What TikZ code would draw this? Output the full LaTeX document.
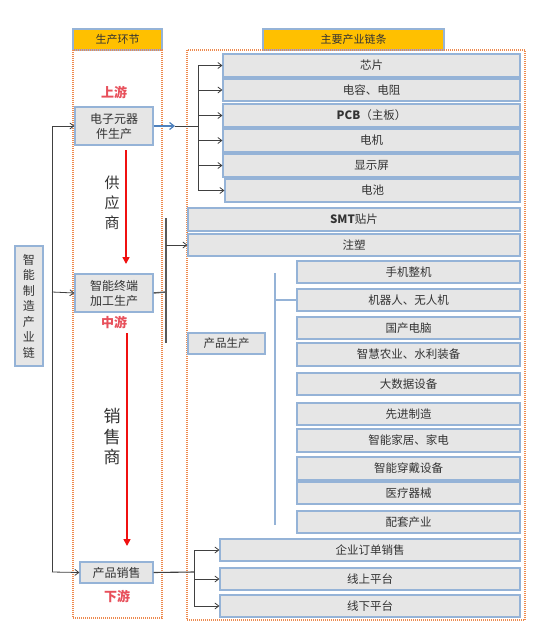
\documentclass[tikz,border=0pt]{standalone}
\usepackage{fontspec}
\setmainfont{Noto Sans CJK SC}
\usetikzlibrary{arrows.meta}
\definecolor{boxblue}{HTML}{95B3D7}
\definecolor{boxgray}{HTML}{E6E6E6}
\definecolor{txt}{HTML}{333333}
\definecolor{hdr}{HTML}{FFC000}
\definecolor{dotor}{HTML}{EE8A4E}
\definecolor{redtxt}{HTML}{E8505B}
\definecolor{redarr}{HTML}{F01010}
\definecolor{arrblue}{HTML}{4F81BD}
\newcommand\mybox[7][]{\node[box,#1,minimum width={(#5-#3)*1pt},minimum height={(#6-#4)*1pt}] (#2) at ({(#3+#5)/2},{(#4+#6)/2}) {#7};}
\tikzset{
 box/.style={draw=boxblue,fill=boxgray,line width=1.1pt,inner sep=0pt,text=txt,font=\fontsize{11.5}{13}\selectfont,align=center},
 hbox/.style={fill=hdr,inner sep=0pt,text=txt,font=\fontsize{11}{13}\selectfont},
 dotframe/.style={draw=dotor,line width=1.3pt,dash pattern=on 1pt off 1pt},
 conn/.style={draw=black!75,line width=0.8pt},
 arr/.style={conn,-{Straight Barb[length=4pt,width=6pt]}},
 bluearr/.style={draw=arrblue,line width=1.2pt,-{Straight Barb[length=4.5pt,width=7pt]}},
 bluel/.style={draw=boxblue,line width=1.3pt},
 redarrow/.style={draw=redarr,line width=1.6pt,-{Triangle[length=7pt,width=7pt]}},
 stage/.style={text=redtxt,font=\fontsize{13}{15}\selectfont\bfseries},
 vtext/.style={text=txt,align=center},
}
\begin{document}
\begin{tikzpicture}[x=1pt,y=-1pt]
\useasboundingbox[fill=white] (0,0) rectangle (542,642);
% headers
\mybox[hbox]{h1}{73}{29}{162}{50}{生产环节}
\mybox[hbox]{h2}{263}{29}{444}{50}{主要产业链条}
% dotted frames
\draw[dotframe] (73,50) rectangle (162,618);
\draw[dotframe] (187,50) rectangle (525,620);
% left stage boxes
\mybox[font=\fontsize{12}{15}\selectfont]{up}{75}{107}{153}{145}{电子元器\\件生产}
\mybox[font=\fontsize{12}{15}\selectfont]{mid}{75}{274}{153}{312}{智能终端\\加工生产}
\mybox[font=\fontsize{12}{15}\selectfont]{down}{80}{562}{153}{583}{产品销售}
\mybox[font=\fontsize{12}{15.5}\selectfont]{root}{15}{246}{43}{366}{智\\能\\制\\造\\产\\业\\链}
% stage labels
\node[stage] (sup) at (114,92) {上游};
\node[stage] (smid) at (114,322) {中游};
\node[stage] (sdown) at (117,596) {下游};
\node[vtext,font=\fontsize{15}{20}\selectfont] (gys) at (112,203) {供\\应\\商};
\node[vtext,font=\fontsize{17}{20.5}\selectfont] (xss) at (112,437) {销\\售\\商};
% red arrows
\coordinate (r1s) at (126,150); \coordinate (r1e) at (126,264);
\coordinate (r2s) at (127,333); \coordinate (r2e) at (127,546);
\draw[redarrow] (r1s) -- (r1e);
\draw[redarrow] (r2s) -- (r2e);
% upstream boxes
\mybox{c1}{223}{54}{520}{77}{芯片}
\mybox{c2}{223}{79}{520}{101}{电容、电阻}
\mybox{c3}{223}{104}{520}{127}{\textbf{PCB}（主板）}
\mybox{c4}{223}{129}{520}{152}{电机}
\mybox{c5}{223}{154}{520}{177}{显示屏}
\mybox{c6}{225}{179}{520}{202}{电池}
% midstream
\mybox{smt}{188}{208}{520}{231}{\textbf{SMT}贴片}
\mybox{zs}{188}{234}{520}{256}{注塑}
\mybox{cpsc}{188}{333}{265}{354}{产品生产}
\mybox{p1}{297}{261}{520}{283}{手机整机}
\mybox{p2}{297}{289}{520}{311}{机器人、无人机}
\mybox{p3}{297}{317}{520}{339}{国产电脑}
\mybox{p4}{297}{343}{520}{366}{智慧农业、水利装备}
\mybox{p5}{297}{373}{520}{395}{大数据设备}
\mybox{p6}{297}{403}{520}{425}{先进制造}
\mybox{p7}{297}{429}{520}{452}{智能家居、家电}
\mybox{p8}{297}{457}{520}{480}{智能穿戴设备}
\mybox{p9}{297}{482}{520}{504}{医疗器械}
\mybox{p10}{297}{511}{520}{533}{配套产业}
% downstream
\mybox{s1}{220}{539}{520}{561}{企业订单销售}
\mybox{s2}{220}{568}{520}{590}{线上平台}
\mybox{s3}{220}{595}{520}{617}{线下平台}
% left bracket
\coordinate (L1) at (52,126);
\coordinate (L2) at (52,292);
\coordinate (L3) at (52,572);
\draw[conn] (L1) -- (L3);
\draw[arr] (L1) -- (up.west);
\draw[arr] (L2) -- (mid.west);
\draw[arr] (L3) -- (down.west);
% upstream bracket
\coordinate (B0) at (175,126);
\coordinate (B1) at (198,126);
\draw[bluearr] (up.east) -- (B0);
\draw[conn] (B0) -- (B1);
\draw[conn] (B1|-c1.west) -- (B1|-c6.west);
\foreach \n in {c1,c2,c3,c4,c5,c6} \draw[arr] (B1|-\n.west) -- (\n.west);
% midstream bracket
\coordinate (M1) at (166,292);
\coordinate (Mt) at (166,218);
\coordinate (Mb) at (166,343);
\draw[conn,line width=1.4pt,draw=black!65] (mid.east) -- (M1);
\draw[conn,line width=1.4pt,draw=black!65] (Mt) -- (Mb);
\draw[arr] (Mt|-zs.west) -- (zs.west);
% product bracket (blue)
\coordinate (Pt) at (275,273);
\coordinate (Pb) at (275,525);
\draw[bluel] (Pt) -- (Pb);
\draw[bluel] (Pt|-p2.west) -- (p2.west);
% downstream bracket
\coordinate (D1) at (194,572);
\draw[conn,line width=1.1pt] (down.east) -- (D1);
\draw[conn] (D1|-s1.west) -- (D1|-s3.west);
\foreach \n in {s1,s2,s3} \draw[arr] (D1|-\n.west) -- (\n.west);
\end{tikzpicture}
\end{document}
